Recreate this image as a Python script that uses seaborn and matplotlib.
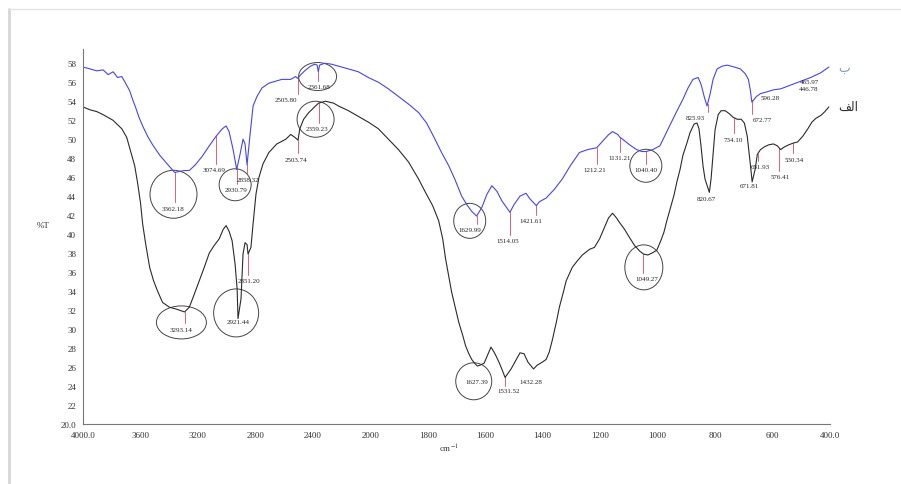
import matplotlib
matplotlib.use('Agg')
import matplotlib.pyplot as plt
import numpy as np
import pandas as pd
import seaborn as sns
from matplotlib.lines import Line2D
from matplotlib.patches import Ellipse
from matplotlib.transforms import ScaledTranslation

# spectrum ب (upper, blue) : wavenumber (cm-1) and %T
blue_wn = [4000, 3950, 3905, 3860, 3825, 3790, 3760, 3730, 3700, 3675, 3655, 3635, 3610,
           3585, 3550, 3515, 3465, 3420, 3362, 3295, 3260, 3218, 3170, 3121, 3074, 3030,
           3004, 2983, 2955, 2930, 2907, 2886, 2872, 2858, 2837, 2816, 2789, 2754, 2706,
           2616, 2554, 2520, 2505, 2490, 2457, 2415, 2388, 2370, 2362, 2353, 2318, 2270,
           2222, 2152, 2083, 2014, 1972, 1937, 1902, 1867, 1832, 1804, 1780, 1752, 1727,
           1706, 1682, 1664, 1647, 1630, 1612, 1594, 1577, 1559, 1542, 1514, 1500, 1479,
           1458, 1444, 1422, 1412, 1388, 1360, 1332, 1304, 1272, 1244, 1212, 1188, 1170,
           1157, 1139, 1131, 1122, 1097, 1073, 1055, 1040, 1017, 992, 968, 947, 929, 912,
           894, 877, 859, 849, 838, 828, 817, 807, 793, 775, 758, 733, 712, 695, 684, 677,
           672, 656, 642, 618, 597, 572, 537, 502, 467, 432, 404]
blue_t = [57.6, 57.4, 57.2, 57.3, 56.8, 57.1, 56.5, 56.6, 55.8, 55.1, 54.2, 53.4, 52.3,
          51.4, 50.3, 49.4, 48.3, 47.5, 46.5, 46.7, 46.7, 47.3, 48.2, 49.3, 50.3, 51.1,
          51.4, 50.8, 48.9, 46.8, 48.4, 50.0, 49.5, 47.3, 50.5, 53.5, 54.5, 55.4, 55.9,
          56.3, 56.3, 56.6, 56.4, 56.7, 57.2, 57.7, 57.9, 57.8, 57.1, 57.8, 58.0, 57.9,
          57.7, 57.4, 57.1, 56.5, 56.0, 55.3, 54.5, 53.7, 52.8, 51.7, 50.3, 48.6, 47.2,
          45.8, 44.0, 43.1, 42.4, 41.9, 42.8, 44.2, 45.1, 44.5, 43.5, 42.3, 43.1, 44.0,
          44.3, 43.7, 43.0, 43.4, 43.8, 44.7, 45.8, 47.2, 48.6, 48.9, 49.1, 49.9, 50.5,
          50.8, 50.5, 50.2, 50.0, 49.4, 48.9, 48.7, 48.7, 48.9, 49.3, 50.8, 52.1, 53.2, 54.2,
          55.4, 56.3, 56.5, 55.8, 54.5, 53.5, 54.8, 56.3, 57.4, 57.7, 57.8, 57.6, 57.4, 56.9,
          56.3, 55.1, 53.9, 54.5, 54.8, 55.0, 55.2, 55.3, 55.7, 56.1, 56.5, 57.0, 57.6]

# spectrum الف (lower, black)
black_wn = [4000, 3952, 3903, 3862, 3827, 3792, 3758, 3730, 3696, 3668, 3640, 3619, 3599,
            3585, 3564, 3536, 3509, 3481, 3446, 3398, 3349, 3293, 3260, 3232, 3190, 3156,
            3121, 3087, 3052, 3024, 3004, 2983, 2962, 2941, 2927, 2921, 2900, 2886, 2872,
            2858, 2851, 2831, 2816, 2796, 2775, 2747, 2706, 2651, 2588, 2554, 2526, 2503,
            2491, 2464, 2429, 2388, 2360, 2312, 2256, 2222, 2152, 2083, 2014, 1972, 1937,
            1902, 1867, 1832, 1808, 1783, 1762, 1748, 1738, 1727, 1717, 1703, 1692, 1678,
            1668, 1657, 1647, 1637, 1627, 1618, 1604, 1594, 1580, 1566, 1552, 1541, 1531,
            1510, 1492, 1479, 1465, 1451, 1432, 1419, 1402, 1388, 1377, 1366, 1352, 1342,
            1328, 1318, 1297, 1279, 1262, 1237, 1220, 1202, 1185, 1171, 1157, 1143, 1132,
            1115, 1097, 1080, 1062, 1049, 1034, 1020, 1003, 989, 978, 968, 957, 943, 933,
            922, 912, 898, 887, 873, 863, 856, 849, 842, 835, 820, 814, 807, 800, 789, 779,
            765, 751, 737, 723, 709, 698, 688, 681, 676, 671, 660, 653, 642, 628, 614, 597,
            583, 572, 558, 544, 527, 513, 495, 477, 463, 449, 432, 418, 404]
black_t = [53.4, 53.1, 52.9, 52.6, 52.3, 52.0, 51.5, 51.1, 50.2, 48.7, 47.2, 45.3, 43.2,
           41.1, 39.0, 36.5, 35.1, 34.0, 32.8, 32.3, 32.1, 31.8, 32.3, 33.4, 35.1, 36.5,
           38.0, 38.8, 39.5, 40.5, 40.9, 40.3, 39.3, 36.8, 34.2, 31.1, 33.2, 37.9, 39.1,
           38.9, 37.9, 38.6, 41.1, 44.2, 46.0, 47.4, 48.6, 49.5, 50.0, 50.5, 50.2, 49.9,
           51.1, 52.1, 52.8, 53.4, 53.8, 54.0, 53.8, 53.5, 53.0, 52.4, 51.8, 51.1, 50.0,
           48.9, 47.6, 45.8, 44.4, 43.0, 41.4, 39.5, 37.4, 35.6, 33.9, 32.1, 30.7, 29.3,
           28.2, 27.4, 26.8, 26.4, 26.1, 26.2, 26.4, 27.1, 28.1, 27.4, 26.5, 25.7, 24.9,
           25.8, 26.8, 27.5, 27.4, 26.5, 25.8, 26.2, 26.5, 26.8, 27.6, 28.9, 30.8, 32.3,
           33.9, 35.1, 36.5, 37.2, 37.8, 38.4, 38.6, 39.5, 40.7, 41.7, 42.2, 41.7, 41.2,
           40.5, 39.6, 38.8, 38.2, 37.9, 37.8, 38.0, 38.3, 39.3, 40.2, 41.4, 42.6, 44.1, 45.5,
           46.8, 48.3, 49.6, 50.7, 51.6, 51.7, 51.1, 49.3, 47.2, 45.8, 44.4, 45.8, 48.4, 51.0,
           52.6, 53.0, 53.0, 52.7, 52.3, 52.1, 52.1, 51.7, 50.3, 48.4, 47.0, 45.5, 46.9, 48.4,
           48.9, 49.2, 49.4, 49.5, 49.3, 48.9, 49.2, 49.4, 49.6, 49.7, 50.3, 51.1, 51.8, 52.2,
           52.5, 52.9, 53.4]

# peak labels
blue_peaks = ['3362.18', '3074.69', '2930.79', '2858.32', '2505.80', '2361.68', '1629.99',
              '1514.05', '1421.61', '1212.21', '1131.21', '1040.40', '825.93', '672.77',
              '596.28', '465.97', '446.78']
black_peaks = ['3293.14', '2921.44', '2851.20', '2503.74', '2359.23', '1627.39', '1531.52',
               '1432.28', '1049.27', '820.67', '734.10', '671.81', '651.93', '576.41',
               '530.34']
circled_blue = ['3362.18', '2930.79', '2361.68', '1629.99', '1040.40']
circled_black = ['3293.14', '2921.44', '2359.23', '1627.39', '1049.27']

xticks = [4000, 3600, 3200, 2800, 2400, 2000, 1800, 1600, 1400, 1200, 1000, 800, 600, 400]
xtick_labels = ['4000.0', '3600', '3200', '2800', '2400', '2000', '1800', '1600', '1400',
                '1200', '1000', '800', '600', '400.0']
yticks = list(range(20, 60, 2))
ytick_labels = ['20.0'] + [str(v) for v in yticks[1:]]

# label placement (x in cm-1, %T), marker line lower end (None = no line)
blue_text_pos = [(3370, 42.7), (3085, 46.8), (2934, 44.7), (2851, 45.8), (2588, 54.2),
                 (2360, 55.6), (1653, 40.5), (1520, 39.3), (1440, 41.4), (1219, 46.8),
                 (1132, 48.1), (1041, 46.8), (870, 52.3), (635, 52.1), (607, 54.4),
                 (473, 56.1), (473, 55.3)]
blue_mark_end = [43.4, 47.4, 45.3, 46.4, 54.8, 56.1, 41.1, 39.9, 42.0, 47.4, 48.7, 47.4,
                 52.9, 52.7, None, None, None]
black_text_pos = [(3315, 30.0), (2920, 30.8), (2844, 35.1), (2515, 47.9), (2374, 51.1),
                  (1629, 24.5), (1520, 23.5), (1440, 24.5), (1037, 35.3), (831, 43.7),
                  (737, 50.0), (682, 45.1), (641, 47.1), (572, 46.1), (523, 47.9)]
black_mark_end = [30.6, None, 35.7, 48.5, 51.7, None, 24.0, None, 35.9, None, 50.6, None,
                  47.7, 46.7, 48.5]
# circle centre (cm-1, %T) and size in pixels
blue_circles = [(3370, 44.2, 47, 48), (2941, 45.2, 32, 32), (2367, 56.6, 38, 28),
                (1654, 41.4, 32, 35), (1041, 47.2, 32, 33)]
black_circles = [(3315, 30.7, 50, 33), (2934, 31.7, 45, 48), (2381, 52.1, 37, 36),
                 (1640, 24.5, 36, 37), (1048, 36.5, 38, 45)]

BLUE = '#4646e6'
BLACK = '#2b2b2b'
RED = '#e0607a'


def fwd(x):
    x = np.asarray(x, dtype=float)
    return np.where(x >= 2000, x / 2 + 1000, x)


def inv(u):
    u = np.asarray(u, dtype=float)
    return np.where(u >= 2000, (u - 1000) * 2, u)


sns.set_style('white')
plt.rcParams['font.family'] = ['Liberation Serif', 'DejaVu Sans']
plt.rcParams['mathtext.fontset'] = 'stix'

fig = plt.figure(figsize=(9.01, 4.85), dpi=100)
ax = fig.add_axes([83 / 901, 1 - 425 / 485, (830 - 83) / 901, (425 - 50) / 485])

df_blue = pd.DataFrame({'wn': blue_wn, 'T': blue_t})
df_black = pd.DataFrame({'wn': black_wn, 'T': black_t})
sns.lineplot(data=df_blue, x='wn', y='T', color=BLUE, lw=0.8, sort=False, ax=ax)
sns.lineplot(data=df_black, x='wn', y='T', color=BLACK, lw=0.8, sort=False, ax=ax)

ax.set_xscale('function', functions=(fwd, inv))


def annotate(peaks, pos, ends, wn, t):
    wn_a = np.array(wn[::-1], dtype=float)
    t_a = np.array(t[::-1], dtype=float)
    for lab, (tx, ty), ye in zip(peaks, pos, ends):
        p = float(lab)
        if ye is not None:
            y0 = np.interp(p, wn_a, t_a)
            ax.plot([p, p], [y0, ye], color=RED, lw=0.7, zorder=1)
        ax.text(tx, ty, lab, ha='center', va='center', fontsize=5, color='#222222')


annotate(blue_peaks, blue_text_pos, blue_mark_end, blue_wn, blue_t)
annotate(black_peaks, black_text_pos, black_mark_end, black_wn, black_t)

for cx, cy, w, h in blue_circles + black_circles:
    tr = fig.dpi_scale_trans + ScaledTranslation(cx, cy, ax.transData)
    ax.add_artist(Ellipse((0, 0), w / 100, h / 100, transform=tr, fill=False,
                          ec='#444444', lw=0.7))

ax.set_xlim(4000, 400)
ax.set_ylim(20, 59.5)
ax.set_xticks(xticks)
ax.set_xticklabels(xtick_labels)
ax.set_yticks(yticks)
ax.set_yticklabels(ytick_labels)
ax.set_xlabel('')
ax.set_ylabel('')
ax.tick_params(axis='both', labelsize=6.5, length=2, width=0.6, color='#888888',
               labelcolor='#333333', pad=3)
sns.despine(ax=ax)
for s in ['left', 'bottom']:
    ax.spines[s].set_color('#777777')
    ax.spines[s].set_linewidth(0.8)

# series names at the right end of each trace
ax.text(352, 57.6, '\u0628', fontsize=9, color='#7f9fb8', ha='center', va='center',
        family=['DejaVu Sans'], clip_on=False)
ax.text(337, 53.5, '\ufed2\ufedf\ufe8d', fontsize=9, color='#333333', ha='center',
        va='center', family=['DejaVu Sans'], clip_on=False)

fig.text(43 / 901, 1 - 226 / 485, '%T', fontsize=6.5, color='#333333', ha='center',
         va='center')
fig.text(449 / 901, 1 - 449 / 485, 'cm$^{-1}$', fontsize=6.5, color='#333333',
         ha='center', va='center')

# light frame of the original picture
fig.add_artist(Line2D([9 / 901, 9 / 901], [0, 1 - 10 / 485], transform=fig.transFigure,
                      color='#d6d6d6', lw=2))
fig.add_artist(Line2D([9 / 901, 1], [1 - 10 / 485, 1 - 10 / 485], transform=fig.transFigure,
                      color='#e4e4e4', lw=1))

fig.savefig('out.png', dpi=100)
